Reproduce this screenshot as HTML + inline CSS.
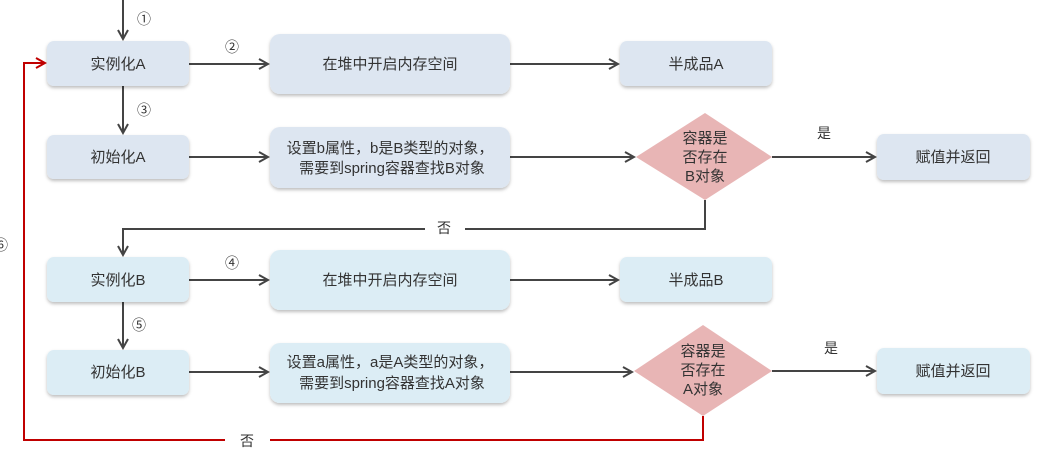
<!DOCTYPE html>
<html><head><meta charset="utf-8"><style>
html,body{margin:0;padding:0;background:#fff;width:1038px;height:451px;overflow:hidden}
svg text{font-family:"Liberation Sans","Noto Sans CJK SC",sans-serif;fill:#333}
</style></head><body>
<svg width="1038" height="451" viewBox="0 0 1038 451" xmlns="http://www.w3.org/2000/svg">
<defs>
<marker id="ar" markerWidth="12" markerHeight="12" refX="10" refY="6" orient="auto" markerUnits="userSpaceOnUse">
<path d="M1,1 L10,6 L1,11" fill="none" stroke="#444" stroke-width="2"/></marker>
<marker id="rr" markerWidth="12" markerHeight="12" refX="10" refY="6" orient="auto" markerUnits="userSpaceOnUse">
<path d="M1,1 L10,6 L1,11" fill="none" stroke="#c00000" stroke-width="2"/></marker>
<filter id="sh" x="-10%" y="-10%" width="120%" height="130%"><feDropShadow dx="0" dy="2" stdDeviation="1.5" flood-color="#000" flood-opacity="0.25"/></filter>
</defs>
<g fill="none" stroke="#444" stroke-width="2">
<line x1="123" y1="0" x2="123" y2="39" marker-end="url(#ar)"/>
<line x1="189" y1="64" x2="268" y2="64" marker-end="url(#ar)"/>
<line x1="510" y1="64" x2="618" y2="64" marker-end="url(#ar)"/>
<line x1="123" y1="86" x2="123" y2="133" marker-end="url(#ar)"/>
<line x1="189" y1="157" x2="268" y2="157" marker-end="url(#ar)"/>
<line x1="510" y1="157" x2="634" y2="157" marker-end="url(#ar)"/>
<line x1="772" y1="157" x2="875" y2="157" marker-end="url(#ar)"/>
<polyline points="705,200 705,229 123,229 123,255" marker-end="url(#ar)"/>
<line x1="189" y1="280" x2="268" y2="280" marker-end="url(#ar)"/>
<line x1="510" y1="280" x2="618" y2="280" marker-end="url(#ar)"/>
<line x1="123" y1="302" x2="123" y2="348" marker-end="url(#ar)"/>
<line x1="189" y1="372" x2="268" y2="372" marker-end="url(#ar)"/>
<line x1="510" y1="372" x2="632" y2="372" marker-end="url(#ar)"/>
<line x1="772" y1="371" x2="875" y2="371" marker-end="url(#ar)"/>
</g>
<polyline points="703,416 703,440 24,440 24,63 45,63" fill="none" stroke="#c00000" stroke-width="2" marker-end="url(#rr)"/>
<rect x="425" y="219" width="40" height="20" fill="#fff"/>
<rect x="225" y="430" width="45" height="20" fill="#fff"/>
<g filter="url(#sh)">
<rect x="47" y="41" width="142" height="45" rx="7" fill="#dde6f1"/>
<rect x="270" y="34" width="240" height="60" rx="10" fill="#dde6f1"/>
<rect x="620" y="41" width="152" height="45" rx="7" fill="#dde6f1"/>
<rect x="47" y="135" width="142" height="44" rx="7" fill="#dde6f1"/>
<rect x="270" y="127" width="240" height="61" rx="10" fill="#dde6f1"/>
<rect x="877" y="134" width="153" height="46" rx="7" fill="#dde6f1"/>
<rect x="47" y="257" width="142" height="45" rx="7" fill="#dcedf5"/>
<rect x="270" y="250" width="240" height="60" rx="10" fill="#dcedf5"/>
<rect x="620" y="257" width="152" height="45" rx="7" fill="#dcedf5"/>
<rect x="47" y="350" width="142" height="45" rx="7" fill="#dcedf5"/>
<rect x="270" y="343" width="240" height="60" rx="10" fill="#dcedf5"/>
<rect x="877" y="348" width="153" height="46" rx="7" fill="#dcedf5"/>
</g>
<polygon points="705,113 772,157 705,200 636,157" fill="#e8b5b5"/>
<polygon points="703,325 772,371 703,416 634,371" fill="#e8b5b5"/>
<g font-size="15" text-anchor="middle">
<text x="118" y="69">实例化A</text>
<text x="390" y="69">在堆中开启内存空间</text>
<text x="696" y="69">半成品A</text>
<text x="118" y="162">初始化A</text>
<text x="390" y="153">设置b属性，b是B类型的对象，</text>
<text x="392" y="173">需要到spring容器查找B对象</text>
<text x="953" y="162">赋值并返回</text>
<text x="118" y="285">实例化B</text>
<text x="390" y="285">在堆中开启内存空间</text>
<text x="696" y="285">半成品B</text>
<text x="118" y="377">初始化B</text>
<text x="390" y="367">设置a属性，a是A类型的对象，</text>
<text x="392" y="388">需要到spring容器查找A对象</text>
<text x="953" y="376">赋值并返回</text>
<text x="705" y="143">容器是</text>
<text x="705" y="162">否存在</text>
<text x="705" y="181">B对象</text>
<text x="703" y="356">容器是</text>
<text x="703" y="375">否存在</text>
<text x="703" y="394">A对象</text>
</g>
<g font-size="14">
<text x="137" y="24">①</text>
<text x="225" y="52">②</text>
<text x="137" y="115">③</text>
<text x="225" y="268">④</text>
<text x="132" y="330">⑤</text>
<text x="-6" y="250">⑥</text>
<text x="817" y="138">是</text>
<text x="824" y="353">是</text>
<text x="437" y="233">否</text>
<text x="240" y="446">否</text>
</g>
</svg>
</body></html>
